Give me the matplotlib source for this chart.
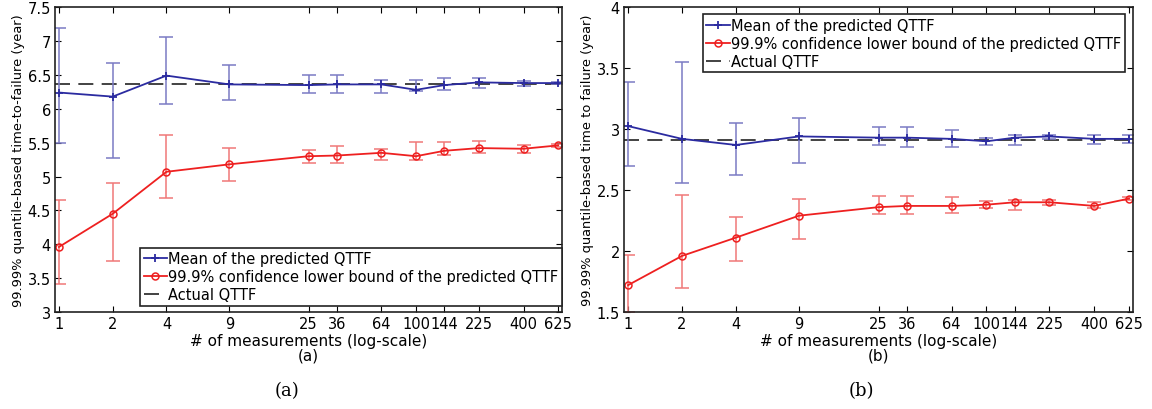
import numpy as np
import matplotlib.pyplot as plt

# number of measurements (x axis, log-scale)
n_meas = [1, 2, 4, 9, 25, 36, 64, 100, 144, 225, 400, 625]
tick_labels = ['1', '2', '4', '9', '25', '36', '64', '100', '144', '225', '400', '625']

# (a) mean of predicted QTTF with error bar limits
mean_a = [6.24, 6.18, 6.49, 6.36, 6.35, 6.36, 6.36, 6.28, 6.35, 6.39, 6.38, 6.38]
mean_a_lo = [5.49, 5.27, 6.07, 6.13, 6.23, 6.23, 6.23, 6.26, 6.28, 6.31, 6.33, 6.36]
mean_a_hi = [7.20, 6.67, 7.06, 6.65, 6.50, 6.50, 6.43, 6.43, 6.45, 6.45, 6.41, 6.40]
# (a) 99.9% confidence lower bound
lb_a = [3.96, 4.45, 5.07, 5.18, 5.30, 5.31, 5.35, 5.30, 5.38, 5.42, 5.41, 5.46]
lb_a_lo = [3.42, 3.76, 4.69, 4.93, 5.20, 5.20, 5.25, 5.25, 5.32, 5.35, 5.35, 5.44]
lb_a_hi = [4.65, 4.91, 5.62, 5.42, 5.39, 5.45, 5.41, 5.51, 5.51, 5.52, 5.46, 5.48]
actual_a = 6.37

# (b) mean of predicted QTTF with error bar limits
mean_b = [3.025, 2.92, 2.87, 2.94, 2.93, 2.93, 2.92, 2.90, 2.93, 2.94, 2.92, 2.92]
mean_b_lo = [2.70, 2.56, 2.62, 2.72, 2.87, 2.85, 2.85, 2.87, 2.87, 2.92, 2.88, 2.89]
mean_b_hi = [3.39, 3.55, 3.05, 3.09, 3.02, 3.02, 2.99, 2.93, 2.95, 2.95, 2.95, 2.95]
# (b) 99.9% confidence lower bound
lb_b = [1.72, 1.96, 2.11, 2.29, 2.36, 2.37, 2.37, 2.38, 2.40, 2.40, 2.37, 2.43]
lb_b_lo = [1.50, 1.70, 1.92, 2.10, 2.30, 2.30, 2.31, 2.35, 2.34, 2.38, 2.35, 2.42]
lb_b_hi = [1.97, 2.46, 2.28, 2.43, 2.45, 2.45, 2.44, 2.41, 2.42, 2.42, 2.40, 2.44]
actual_b = 2.91

blue = '#2b2ba0'
blue_err = '#7a7ac4'
red = '#ee2020'
red_err = '#f07878'

plt.rcParams['font.family'] = 'DejaVu Sans'
fig = plt.figure(figsize=(11.52, 4.10), dpi=100)
ax_a = fig.add_axes([0.0477, 0.2366, 0.4403, 0.7434])
ax_b = fig.add_axes([0.5417, 0.2366, 0.4418, 0.7434])


def draw(ax, mean, m_lo, m_hi, lb, l_lo, l_hi, actual, ylim, yticks, ylabel, sub, leg_anchor):
    x = np.array(n_meas)
    mean = np.array(mean)
    lb = np.array(lb)
    m_err = [mean - np.array(m_lo), np.array(m_hi) - mean]
    l_err = [lb - np.array(l_lo), np.array(l_hi) - lb]
    ax.errorbar(x, mean, yerr=m_err, fmt='none', ecolor=blue_err, capsize=5, elinewidth=1.1, capthick=1.1)
    ax.errorbar(x, lb, yerr=l_err, fmt='none', ecolor=red_err, capsize=5, elinewidth=1.1, capthick=1.1)
    ax.plot(x, mean, color=blue, marker='+', markersize=6, markeredgewidth=1.3, linewidth=1.3,
            label='Mean of the predicted QTTF')
    ax.plot(x, lb, color=red, marker='o', markersize=5, markerfacecolor='none', markeredgewidth=1.1,
            linewidth=1.3, label='99.9% confidence lower bound of the predicted QTTF')
    ax.axhline(actual, color='#222222', linestyle=(0, (9, 5)), linewidth=1.2, label='Actual QTTF', zorder=1)
    ax.set_xscale('log')
    ax.set_xlim(0.95, 658)
    ax.set_ylim(*ylim)
    ax.set_xticks(n_meas)
    ax.set_xticklabels(tick_labels)
    ax.minorticks_off()
    ax.set_yticks(yticks)
    ax.set_yticklabels([('%g' % v) for v in yticks])
    ax.tick_params(direction='in', top=True, right=True, labelsize=10.5, length=4, pad=3)
    ax.set_xlabel('# of measurements (log-scale)\n' + sub, fontsize=11, labelpad=1, linespacing=1.0)
    ax.set_ylabel(ylabel, fontsize=9.4, labelpad=2)
    for s in ax.spines.values():
        s.set_linewidth(1.2)
        s.set_color('#222222')
    loc = 'lower right' if leg_anchor[1] < 0.5 else 'upper right'
    leg = ax.legend(loc=loc, bbox_to_anchor=leg_anchor, fontsize=10.5, fancybox=False, framealpha=1,
                    edgecolor='#222222', handlelength=1.6, handletextpad=0.1, borderpad=0.25,
                    labelspacing=0.2, borderaxespad=0)
    leg.get_frame().set_linewidth(1.2)


draw(ax_a, mean_a, mean_a_lo, mean_a_hi, lb_a, lb_a_lo, lb_a_hi, actual_a,
     (3, 7.5), [3, 3.5, 4, 4.5, 5, 5.5, 6, 6.5, 7, 7.5],
     '99.99% quantile-based time-to-failure (year)', '(a)', (1.0, 0.02))
draw(ax_b, mean_b, mean_b_lo, mean_b_hi, lb_b, lb_b_lo, lb_b_hi, actual_b,
     (1.5, 4), [1.5, 2, 2.5, 3, 3.5, 4],
     '99.99% quantile-based time to failure (year)', '(b)', (0.984, 0.977))

fig.text(0.249, 0.033, '(a)', fontsize=13, family='DejaVu Serif', ha='center')
fig.text(0.748, 0.033, '(b)', fontsize=13, family='DejaVu Serif', ha='center')

fig.savefig('out.png', dpi=100)
